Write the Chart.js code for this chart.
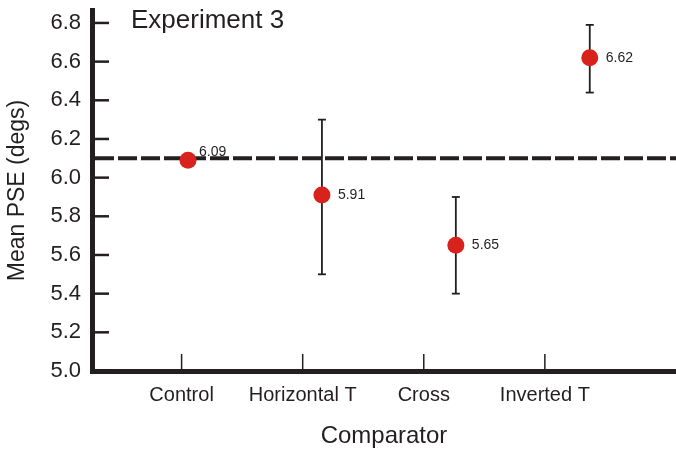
<!DOCTYPE html>
<html>
<head>
<meta charset="utf-8">
<script src="https://cdn.jsdelivr.net/npm/chart.js@4"></script>
<style>
  html, body { margin: 0; padding: 0; background: #fff; }
</style>
</head>
<body>
<canvas id="pseChart" width="676" height="451"></canvas>
<script>
// Experiment 3 - mean PSE per comparator
const categories = ['Control', 'Horizontal T', 'Cross', 'Inverted T'];
const meanPSE = [6.09, 5.91, 5.65, 6.62];
const errUpper = [null, 6.30, 5.90, 6.79];
const errLower = [null, 5.50, 5.40, 6.44];
const referenceValue = 6.1;
const yTicks = [5.0, 5.2, 5.4, 5.6, 5.8, 6.0, 6.2, 6.4, 6.6, 6.8];

const ink = '#231f20';
const dotRed = '#d8231d';
const fontFamily = '"Liberation Sans", Arial, Helvetica, sans-serif';

function line(ctx, x1, y1, x2, y2) {
    ctx.beginPath();
    ctx.moveTo(x1, y1);
    ctx.lineTo(x2, y2);
    ctx.stroke();
}

const pseDecor = {
    id: 'pseDecor',
    beforeDatasetsDraw(chart) {
        const { ctx, chartArea, scales } = chart;
        const y = scales.y, x = scales.x, xp = scales.xp;
        ctx.save();
        ctx.strokeStyle = ink;

        // inward ticks on the y axis
        ctx.lineWidth = 2.5;
        yTicks.forEach(v => {
            const py = y.getPixelForValue(v);
            line(ctx, chartArea.left, py, chartArea.left + 17, py);
        });

        // upward ticks on the x axis
        ctx.lineWidth = 1.5;
        categories.forEach((c, i) => {
            const px = x.getPixelForValue(i);
            line(ctx, px, chartArea.bottom, px, chartArea.bottom - 17);
        });

        // error bars
        ctx.lineWidth = 1.8;
        categories.forEach((c, i) => {
            if (errUpper[i] == null) return;
            const px = xp.getPixelForValue(i);
            const top = y.getPixelForValue(errUpper[i]);
            const bot = y.getPixelForValue(errLower[i]);
            line(ctx, px, top, px, bot);
            line(ctx, px - 4, top, px + 4, top);
            line(ctx, px - 4, bot, px + 4, bot);
        });

        // dashed reference line
        const ry = y.getPixelForValue(referenceValue);
        ctx.lineWidth = 4;
        ctx.setLineDash([19, 4]);
        line(ctx, chartArea.left + 3, ry, chartArea.right, ry);
        ctx.restore();
    },
    afterDatasetsDraw(chart) {
        const { ctx, scales } = chart;
        const y = scales.y, xp = scales.xp;
        ctx.save();
        ctx.fillStyle = ink;
        ctx.textBaseline = 'middle';
        ctx.textAlign = 'left';

        // value labels next to the dots
        ctx.font = '14px ' + fontFamily;
        meanPSE.forEach((v, i) => {
            const px = xp.getPixelForValue(i);
            const py = y.getPixelForValue(v);
            if (i === 0) {
                ctx.fillText(v.toFixed(2), px + 11, py - 8);
            } else {
                ctx.fillText(v.toFixed(2), px + 16, py);
            }
        });

        // panel title
        ctx.font = '26px ' + fontFamily;
        ctx.fillText('Experiment 3', 131, 21);
        ctx.restore();
    }
};

const ctx = document.getElementById('pseChart').getContext('2d');
new Chart(ctx, {
    type: 'scatter',
    data: {
        datasets: [{
            label: 'Mean PSE',
            data: meanPSE.map((v, i) => ({ x: i, y: v })),
            xAxisID: 'xp',
            yAxisID: 'y',
            backgroundColor: dotRed,
            borderWidth: 0,
            pointRadius: 8.5,
            pointHoverRadius: 8.5
        }]
    },
    options: {
        responsive: false,
        animation: false,
        layout: { autoPadding: false, padding: { top: 10, left: 0, right: 0, bottom: 0 } },
        plugins: {
            legend: { display: false },
            tooltip: { enabled: false }
        },
        scales: {
            y: {
                type: 'linear',
                position: 'left',
                min: 5.0,
                max: 6.867,
                afterBuildTicks: axis => { axis.ticks = yTicks.map(v => ({ value: v })); },
                afterFit: axis => {
                    axis.width = 92;
                    axis.paddingTop = 0;
                    axis.paddingBottom = 0;
                },
                grid: { display: false, drawTicks: false },
                border: { display: true, width: 5, color: ink },
                ticks: {
                    color: ink,
                    padding: 11,
                    font: { family: fontFamily, size: 22 },
                    callback: v => v.toFixed(1)
                },
                title: {
                    display: true,
                    text: 'Mean PSE (degs)',
                    color: ink,
                    font: { family: fontFamily, size: 23 },
                    padding: { top: 4, bottom: 0 }
                }
            },
            x: {
                type: 'linear',
                position: 'bottom',
                min: -0.74,
                max: 4.083,
                afterBuildTicks: axis => { axis.ticks = categories.map((c, i) => ({ value: i })); },
                afterFit: axis => {
                    axis.height = 80;
                    axis.paddingLeft = 0;
                    axis.paddingRight = 0;
                },
                grid: { display: false, drawTicks: false },
                border: { display: true, width: 5, color: ink },
                ticks: {
                    color: ink,
                    padding: 12,
                    maxRotation: 0,
                    autoSkip: false,
                    font: { family: fontFamily, size: 20 },
                    callback: (v, i) => categories[i]
                },
                title: {
                    display: true,
                    text: 'Comparator',
                    color: ink,
                    font: { family: fontFamily, size: 24 },
                    padding: { top: 0, bottom: 0 }
                }
            },
            xp: {
                type: 'linear',
                display: false,
                min: -0.717,
                max: 3.644
            }
        }
    },
    plugins: [pseDecor]
});
</script>
</body>
</html>
